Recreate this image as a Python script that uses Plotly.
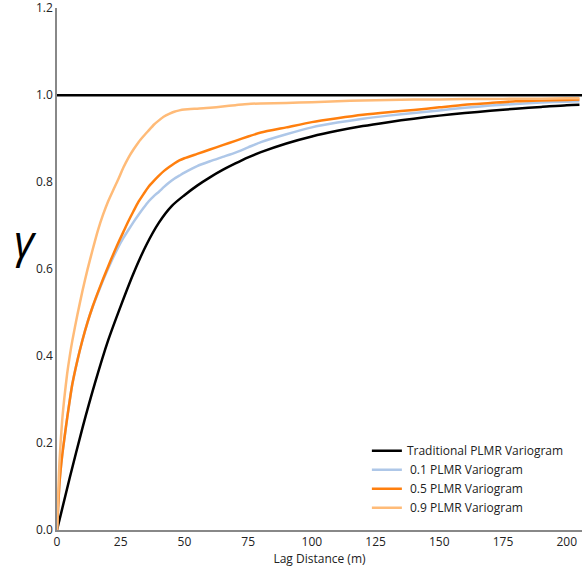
import plotly.graph_objects as go

# ---- data ----
lag_emp = [0, 1, 2, 3, 4, 5, 6, 8, 10, 12, 14, 16, 18, 20, 22, 24, 26, 28, 30, 32, 34, 36,
           38, 40, 42, 44, 46, 48, 50, 55, 60, 65, 70, 75, 80, 90, 100, 110, 120, 130, 140,
           150, 160, 170, 180, 190, 200, 205]

gamma_09 = [0.0, 0.16, 0.25, 0.31, 0.36, 0.40, 0.435, 0.495, 0.55, 0.60, 0.645, 0.688, 0.724,
            0.755, 0.781, 0.806, 0.833, 0.856, 0.875, 0.892, 0.906, 0.919, 0.932, 0.942, 0.951,
            0.957, 0.962, 0.965, 0.967, 0.969, 0.971, 0.974, 0.977, 0.980, 0.981, 0.982,
            0.984, 0.986, 0.988, 0.989, 0.990, 0.990, 0.991, 0.991, 0.992, 0.992, 0.993, 0.993]

gamma_05 = [0.0, 0.11, 0.17, 0.215, 0.258, 0.298, 0.335, 0.39, 0.437, 0.478, 0.514, 0.546, 0.576,
            0.605, 0.633, 0.66, 0.685, 0.71, 0.733, 0.755, 0.773, 0.79, 0.803, 0.815, 0.826,
            0.835, 0.843, 0.85, 0.855, 0.865, 0.875, 0.885, 0.895, 0.905, 0.914, 0.926,
            0.938, 0.947, 0.955, 0.961, 0.966, 0.972, 0.978, 0.982, 0.986, 0.988, 0.989, 0.990]

gamma_01 = [0.0, 0.11, 0.17, 0.215, 0.258, 0.298, 0.335, 0.39, 0.437, 0.478, 0.513, 0.544, 0.573,
            0.60, 0.626, 0.65, 0.671, 0.69, 0.708, 0.725, 0.741, 0.756, 0.768, 0.778, 0.789,
            0.799, 0.808, 0.815, 0.822, 0.837, 0.848, 0.858, 0.868, 0.88, 0.892, 0.910,
            0.926, 0.937, 0.946, 0.953, 0.959, 0.965, 0.971, 0.976, 0.980, 0.983, 0.985, 0.986]

lag_trad = [0, 5, 10, 15, 20, 25, 30, 35, 40, 45, 50, 55, 60, 65, 70, 75, 80, 90, 100,
            110, 120, 130, 140, 150, 160, 170, 180, 190, 200, 205]
gamma_trad = [0.0, 0.12, 0.235, 0.34, 0.435, 0.515, 0.59, 0.655, 0.707, 0.745, 0.77,
              0.792, 0.811, 0.828, 0.843, 0.857, 0.869, 0.889, 0.905, 0.918, 0.929, 0.938,
              0.946, 0.953, 0.959, 0.964, 0.969, 0.973, 0.977, 0.978]

sill = 1.0
x_ticks = [0, 25, 50, 75, 100, 125, 150, 175, 200]
y_ticks = [0.0, 0.2, 0.4, 0.6, 0.8, 1.0, 1.2]

FONT = "Open Sans"

fig = go.Figure()
fig.add_trace(go.Scatter(x=lag_trad, y=gamma_trad, mode="lines", name="Traditional PLMR Variogram",
                         line=dict(color="#000000", width=2.5, shape="spline", smoothing=0.8)))
fig.add_trace(go.Scatter(x=lag_emp, y=gamma_01, mode="lines", name=" 0.1 PLMR Variogram",
                         line=dict(color="#aec7e8", width=2.5, shape="spline", smoothing=0.6)))
fig.add_trace(go.Scatter(x=lag_emp, y=gamma_05, mode="lines", name=" 0.5 PLMR Variogram",
                         line=dict(color="#ff7f0e", width=2.5, shape="spline", smoothing=0.6)))
fig.add_trace(go.Scatter(x=lag_emp, y=gamma_09, mode="lines", name=" 0.9 PLMR Variogram",
                         line=dict(color="#ffbb78", width=2.5, shape="spline", smoothing=0.6)))

fig.add_hline(y=sill, line=dict(color="#000000", width=2.5))

fig.add_annotation(text="<i>γ</i>", xref="paper", yref="y", x=-0.06, y=0.668,
                   xanchor="center", yanchor="middle",
                   showarrow=False, font=dict(family=FONT, size=44, color="#000000"))

fig.update_layout(
    width=582, height=571,
    margin=dict(l=57, r=0, t=8, b=41),
    paper_bgcolor="white", plot_bgcolor="white",
    font=dict(family=FONT, size=12, color="#222222"),
    showlegend=True,
    legend=dict(x=0.975, xanchor="right", y=0.015, yanchor="bottom",
                bgcolor="rgba(255,255,255,0)", font=dict(size=12, color="#222222"),
                tracegroupgap=0),
    xaxis=dict(range=[0, 206], tickvals=x_ticks, showgrid=False, zeroline=False,
               showline=True, linecolor="#888888", linewidth=1.5, ticks="",
               ticklabeloverflow="allow",
               title=dict(text="Lag Distance (m)", standoff=0, font=dict(size=12))),
    yaxis=dict(range=[0, 1.2005], tickvals=y_ticks, tickformat=".1f", showgrid=False,
               zeroline=False, showline=True, linecolor="#888888", linewidth=1.5, ticks="",
               ticklabeloverflow="allow"),
)

fig.write_html("out.html")
